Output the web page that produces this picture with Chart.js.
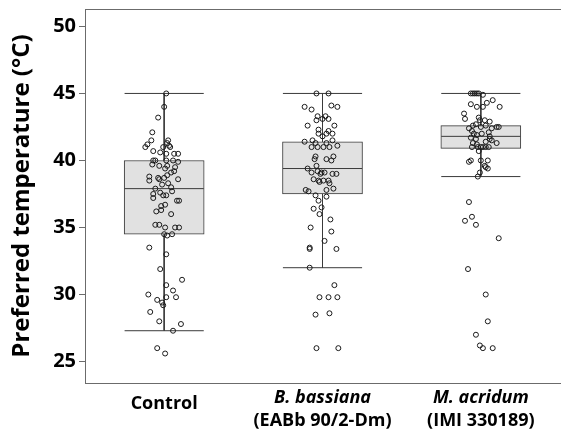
<!DOCTYPE html>
<html>
<head>
  <meta charset="UTF-8">
  <title>Preferred temperature</title>
  <script src="https://cdn.jsdelivr.net/npm/chart.js"></script>
  <style>
    body { margin: 0; background: #fff; }
    #wrap { width: 565px; height: 435px; }
  </style>
</head>
<body>
<div id="wrap"><canvas id="tempChart" width="565" height="435"></canvas></div>
<script>
// groups
var groups = ['Control', 'B. bassiana', 'M. acridum'];
var subLabels = ['', '(EABb 90/2-Dm)', '(IMI 330189)'];
var italicGroup = [false, true, true];

// box plot stats (°C)
var whiskerHigh = [45.0, 45.0, 45.0];
var q3 = [40.0, 41.4, 42.6];
var median = [37.9, 39.4, 41.8];
var q1 = [34.5, 37.5, 40.9];
var whiskerLow = [27.3, 32.0, 38.8];

var yTicks = [25, 30, 35, 40, 45, 50];

// individual insects, value + horizontal jitter (in category units)
var controlTemps = [
  45.0, 44.0, 43.2, 42.1, 41.5, 41.2, 41.0, 41.5, 41.3, 41.1,
  41.0, 41.0, 40.7, 40.6, 40.5, 40.5, 40.5, 40.0, 40.0, 40.0,
  40.0, 39.9, 39.7, 39.6, 39.6, 39.5, 39.4, 39.2, 39.1, 38.9,
  38.8, 38.5, 38.7, 38.6, 38.7, 38.6, 38.3, 38.2, 38.0, 37.9,
  37.7, 37.6, 37.5, 37.4, 37.4, 37.2, 37.0, 37.0, 36.7, 36.6,
  36.3, 36.2, 36.0, 35.2, 35.2, 35.0, 35.0, 35.0, 34.5, 34.4,
  34.5, 33.5, 33.0, 31.9, 31.1, 30.7, 30.3, 30.0, 29.8, 29.8,
  29.6, 29.4, 29.2, 28.7, 28.0, 27.8, 27.3, 26.0, 25.6
];
var controlJitter = [
  0.013, 0, -0.038, -0.075, -0.081, -0.106, -0.119, 0.025, 0.019, 0.031,
  -0.006, 0.038, -0.069, -0.025, 0.013, 0.063, 0.088, -0.069, -0.056, 0.013,
  0.056, 0.088, -0.075, -0.031, 0.019, 0.069, 0.006, 0.063, 0.044, 0.019,
  -0.094, -0.094, -0.038, -0.031, 0, 0.088, 0.025, -0.013, 0.044, -0.056,
  0.05, -0.025, -0.069, -0.006, 0.013, -0.069, 0.081, 0.094, 0.006, -0.019,
  -0.019, -0.05, 0.044, -0.056, -0.031, 0.006, 0.069, 0.094, 0, 0.019,
  0.05, -0.094, 0.013, -0.025, 0.113, 0.013, 0.056, -0.1, 0.013, 0.075,
  -0.044, -0.013, -0.006, -0.088, -0.031, 0.106, 0.056, -0.044, 0.006
];

var bassianaTemps = [
  45.0, 45.0, 44.0, 43.8, 44.1, 44.0, 43.3, 43.3, 43.0, 43.1,
  43.1, 42.6, 42.6, 42.3, 42.2, 42.0, 42.0, 42.0, 41.8, 41.5,
  41.4, 41.5, 41.3, 41.3, 41.0, 41.0, 41.0, 41.0, 41.1, 40.3,
  40.3, 40.1, 40.0, 40.1, 39.6, 39.4, 39.2, 39.1, 39.1, 39.1,
  39.0, 39.0, 39.0, 38.6, 38.5, 38.5, 38.5, 38.4, 38.3, 37.9,
  37.8, 37.7, 37.8, 37.4, 37.3, 37.0, 36.4, 36.5, 36.0, 35.6,
  35.0, 34.7, 34.0, 33.5, 33.4, 33.4, 32.0, 30.7, 29.8, 29.8,
  29.8, 28.5, 28.6, 26.0, 26.0
];
var bassianaJitter = [
  -0.038, 0.038, -0.113, -0.069, 0.056, 0.094, -0.031, 0.019, -0.038, 0,
  0.038, -0.094, 0.075, -0.025, 0.038, -0.025, 0.025, 0.063, 0, 0.063,
  -0.113, -0.063, -0.044, 0.025, -0.069, -0.031, 0.006, 0.044, 0.094, 0.069,
  -0.044, 0.025, 0.056, -0.05, -0.038, -0.094, -0.031, -0.069, -0.006, 0.013,
  0.063, 0.088, -0.013, -0.056, -0.025, 0.006, 0.038, -0.019, 0.044, 0.069,
  -0.106, -0.088, 0.025, -0.044, 0.025, -0.025, -0.056, -0.006, -0.019, 0.05,
  -0.075, 0.056, 0.013, -0.081, -0.081, 0.088, -0.081, 0.075, -0.019, 0.038,
  0.094, -0.044, 0.044, -0.038, 0.1
];

var acridumTemps = [
  45.0, 45.0, 45.0, 45.0, 45.0, 44.9, 44.2, 44.0, 44.0, 44.3,
  44.5, 44.0, 43.5, 43.1, 43.2, 43.0, 43.0, 42.9, 42.6, 42.7,
  42.5, 42.6, 42.4, 42.5, 42.5, 42.4, 42.2, 42.0, 42.1, 42.0,
  41.9, 41.7, 41.6, 41.8, 41.6, 41.4, 41.5, 41.3, 41.3, 41.2,
  41.0, 41.0, 41.0, 41.0, 41.0, 41.0, 40.7, 40.0, 39.9, 40.0,
  40.0, 39.6, 39.5, 39.4, 39.1, 38.8, 36.9, 35.8, 35.5, 35.2,
  34.2, 31.9, 30.0, 28.0, 27.0, 26.2, 26.0, 26.0
];
var acridumJitter = [
  -0.063, -0.05, -0.038, -0.025, -0.013, 0.013, -0.063, -0.025, 0.013, 0.038,
  0.075, 0.119, -0.106, -0.1, -0.013, -0.006, 0.025, 0.056, -0.05, -0.031,
  0, 0.031, 0.069, 0.1, 0.113, -0.075, -0.056, -0.044, 0.05, 0.006,
  -0.025, -0.063, -0.031, 0.056, 0.056, 0.031, 0.069, 0.1, -0.05, -0.025,
  -0.056, -0.019, 0, 0.013, 0.031, 0.05, -0.013, -0.063, -0.075, 0,
  0.044, 0.025, 0.031, 0.044, -0.006, -0.019, -0.075, -0.056, -0.1, -0.031,
  0.113, -0.081, 0.031, 0.044, -0.031, -0.006, 0.013, 0.075
];

var allTemps = [controlTemps, bassianaTemps, acridumTemps];
var allJitter = [controlJitter, bassianaJitter, acridumJitter];

var FONT = "'Open Sans', 'DejaVu Sans', sans-serif";
var AXIS_GREY = '#6b6b6b';
var BOX_LINE = '#3a3a3a';
var HALF = 0.25; // half box width, category units

// build line segments for whiskers / caps and medians
var whiskerData = [];
var medianData = [];
for (var i = 0; i < groups.length; i++) {
  var x = i + 1;
  whiskerData.push({x: x, y: whiskerHigh[i]}, {x: x, y: q3[i]}, {x: x, y: null});
  whiskerData.push({x: x, y: q1[i]}, {x: x, y: whiskerLow[i]}, {x: x, y: null});
  whiskerData.push({x: x - HALF, y: whiskerHigh[i]}, {x: x + HALF, y: whiskerHigh[i]}, {x: x, y: null});
  whiskerData.push({x: x - HALF, y: whiskerLow[i]}, {x: x + HALF, y: whiskerLow[i]}, {x: x, y: null});
  medianData.push({x: x - HALF, y: median[i]}, {x: x + HALF, y: median[i]}, {x: x, y: null});
}

var boxData = groups.map(function (g, i) {
  return {x: i + 1, y: [q1[i], q3[i]]};
});

var pointData = [];
allTemps.forEach(function (temps, i) {
  temps.forEach(function (t, k) {
    pointData.push({x: i + 1 + allJitter[i][k], y: t});
  });
});

// category labels under the plot (mixed italic / upright lines)
var groupLabels = {
  id: 'groupLabels',
  afterDraw: function (chart) {
    var ctx = chart.ctx;
    var xs = chart.scales.x;
    var bottom = chart.chartArea.bottom;
    ctx.save();
    ctx.fillStyle = '#000';
    ctx.textAlign = 'center';
    ctx.textBaseline = 'alphabetic';
    groups.forEach(function (g, i) {
      var px = xs.getPixelForValue(i + 1);
      ctx.font = (italicGroup[i] ? 'italic ' : '') + 'bold 18px ' + FONT;
      if (subLabels[i]) {
        ctx.fillText(g, px, bottom + 20);
        ctx.font = 'bold 18px ' + FONT;
        ctx.fillText(subLabels[i], px, bottom + 43);
      } else {
        ctx.fillText(g, px, bottom + 26);
      }
    });
    ctx.restore();
  }
};

var ctx = document.getElementById('tempChart').getContext('2d');
var tempChart = new Chart(ctx, {
  type: 'bar',
  data: {
    datasets: [{
      type: 'scatter',
      data: pointData,
      pointRadius: 2.5,
      pointBorderWidth: 1,
      pointBorderColor: '#1a1a1a',
      pointBackgroundColor: 'rgba(255,255,255,0)',
      order: 0
    }, {
      type: 'line',
      data: medianData,
      borderColor: BOX_LINE,
      borderWidth: 1,
      pointRadius: 0,
      spanGaps: false,
      order: 1
    }, {
      type: 'line',
      data: whiskerData,
      borderColor: BOX_LINE,
      borderWidth: 1,
      pointRadius: 0,
      spanGaps: false,
      order: 2
    }, {
      type: 'bar',
      data: boxData,
      backgroundColor: '#e1e1e1',
      borderColor: BOX_LINE,
      borderWidth: 1,
      borderSkipped: false,
      barThickness: 80,
      order: 3
    }]
  },
  options: {
    responsive: false,
    animation: false,
    layout: { padding: { left: 0, right: 0, top: 0, bottom: 0 } },
    plugins: { legend: { display: false }, tooltip: { enabled: false } },
    scales: {
      x: {
        type: 'linear',
        position: 'bottom',
        min: 0.5,
        max: 3.5,
        offset: false,
        ticks: { display: false },
        grid: { display: false },
        border: { display: true, color: AXIS_GREY, width: 1 },
        afterFit: function (scale) { scale.height = 52; }
      },
      xTop: {
        type: 'linear',
        position: 'top',
        min: 0.5,
        max: 3.5,
        ticks: { display: false },
        grid: { display: false },
        border: { display: true, color: AXIS_GREY, width: 1 },
        afterFit: function (scale) { scale.height = 9; }
      },
      y: {
        type: 'linear',
        min: 23.4,
        max: 51.3,
        afterBuildTicks: function (scale) {
          scale.ticks = yTicks.map(function (v) { return {value: v}; });
        },
        ticks: {
          color: '#000',
          padding: 3,
          font: { family: FONT, size: 20, weight: 'bold' }
        },
        grid: { display: true, drawOnChartArea: false, drawTicks: true, tickLength: 6, color: AXIS_GREY },
        border: { display: true, color: AXIS_GREY, width: 1 },
        title: {
          display: true,
          text: 'Preferred temperature (°C)',
          color: '#000',
          font: { family: FONT, size: 24, weight: 'bold' },
          padding: { top: 8, bottom: 0 }
        },
        afterFit: function (scale) {
          scale.width = 85;
          // labels 25/50 sit inside the range, no extra room needed
          scale.paddingTop = 0;
          scale.paddingBottom = 0;
        }
      }
    }
  },
  plugins: [groupLabels]
});
</script>
</body>
</html>
